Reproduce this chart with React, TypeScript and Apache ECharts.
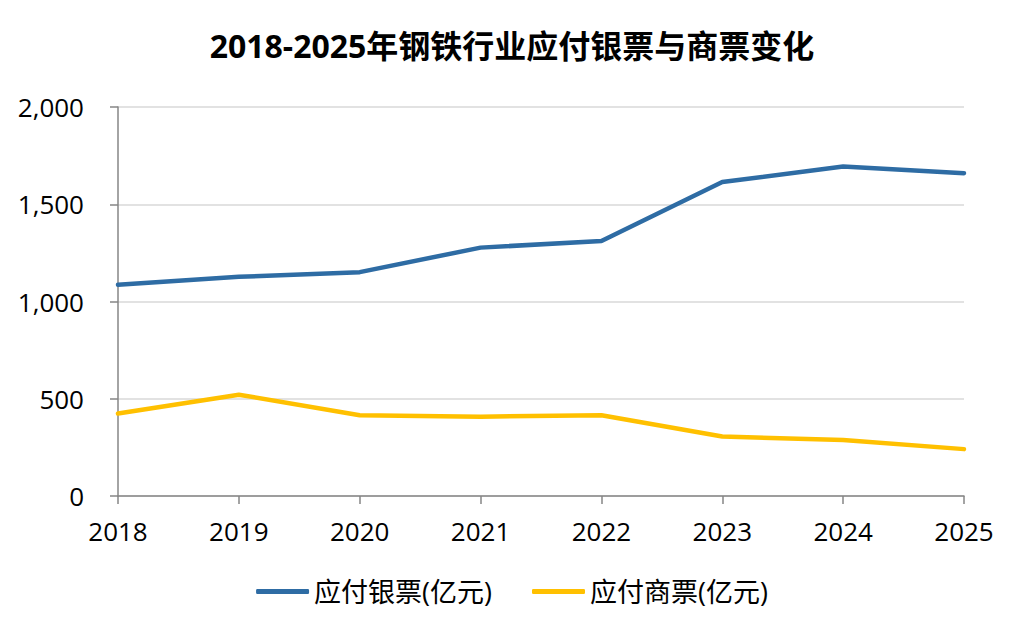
import React, { useEffect, useRef } from "react";
import * as echarts from "echarts";

const years = ["2018", "2019", "2020", "2021", "2022", "2023", "2024", "2025"];
const bankBills = [1086, 1127, 1151, 1277, 1311, 1614, 1694, 1660];
const commercialBills = [424, 521, 415, 408, 415, 306, 288, 241];
const seriesNames = ["应付银票(亿元)", "应付商票(亿元)"];
const titleText = "2018-2025年钢铁行业应付银票与商票变化";

const FONT = "'Open Sans', 'Noto Sans CJK SC', sans-serif";

export default function App() {
  const ref = useRef<HTMLDivElement>(null);
  useEffect(() => {
    if (!ref.current) return;
    const chart = echarts.init(ref.current, undefined, { renderer: "svg" });
    chart.setOption({
      animation: false,
      backgroundColor: "#ffffff",
      title: {
        text: titleText,
        left: "center",
        top: 24,
        textStyle: { fontFamily: FONT, fontSize: 32, fontWeight: "bold", color: "#000" },
      },
      legend: {
        top: 573,
        left: "center",
        icon: "roundRect",
        itemWidth: 53,
        itemHeight: 5,
        itemGap: 40,
        textStyle: { fontFamily: FONT, fontSize: 27, color: "#000" },
        data: seriesNames,
      },
      grid: { left: 118, right: 60, top: 107, bottom: 136 },
      xAxis: {
        type: "category",
        data: years,
        boundaryGap: false,
        axisLine: { lineStyle: { color: "#868686", width: 1.5 } },
        axisTick: { show: true, length: 8, alignWithLabel: true, lineStyle: { color: "#868686", width: 1.5 } },
        axisLabel: { fontFamily: FONT, fontSize: 26, color: "#000", margin: 22 },
      },
      yAxis: {
        type: "value",
        min: 0,
        max: 2000,
        interval: 500,
        axisLine: { show: true, lineStyle: { color: "#868686", width: 1.5 } },
        axisTick: { show: true, length: 8, lineStyle: { color: "#868686", width: 1.5 } },
        splitLine: { lineStyle: { color: "#d9d9d9", width: 1.5 } },
        axisLabel: {
          fontFamily: FONT,
          fontSize: 26,
          color: "#000",
          margin: 34,
          formatter: (v: number) => v.toLocaleString("en-US"),
        },
      },
      series: [
        {
          name: seriesNames[0],
          type: "line",
          data: bankBills,
          symbol: "none",
          lineStyle: { color: "#2e6ca4", width: 4.5, cap: "round" },
          itemStyle: { color: "#2e6ca4" },
        },
        {
          name: seriesNames[1],
          type: "line",
          data: commercialBills,
          symbol: "none",
          lineStyle: { color: "#ffc000", width: 4.5, cap: "round" },
          itemStyle: { color: "#ffc000" },
        },
      ],
    });
    return () => chart.dispose();
  }, []);
  return (
    <div
      ref={ref}
      style={{ position: "absolute", left: 0, top: 0, width: 1024, height: 632 }}
    />
  );
}
